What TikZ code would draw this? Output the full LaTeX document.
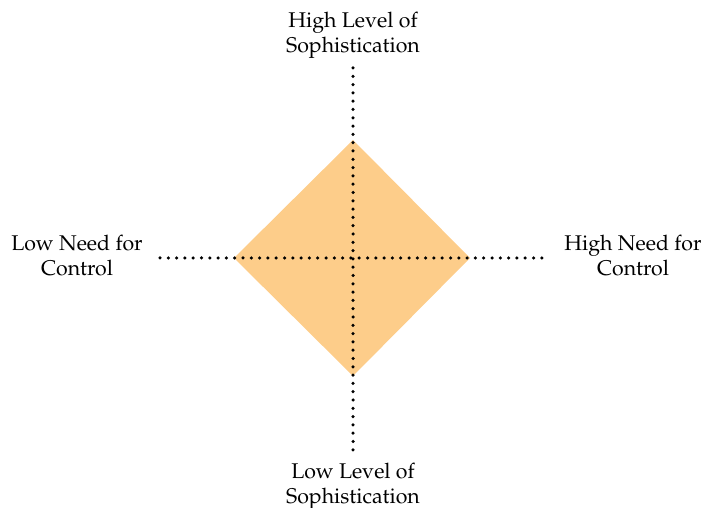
\documentclass[tikz,border=0pt]{standalone}
\usepackage[T1]{fontenc}
\usepackage{mathpazo}
\usepackage{xcolor}
\definecolor{diamondfill}{RGB}{253,205,138}
\tikzset{
  axislabel/.style={draw=none,align=center,font=\fontsize{21.3bp}{25bp}\selectfont,inner sep=0pt},
  dotline/.style={line width=3.5bp,line cap=round,dash pattern=on 0bp off 8.3bp},
}
\begin{document}
\begin{tikzpicture}[x=1bp,y=1bp]
\useasboundingbox (0bp,0bp) rectangle (702bp,508bp);
%%
\coordinate (top) at (353bp,368bp);
  \coordinate (bottom) at (353bp,132bp);
  \coordinate (left) at (234bp,250bp);
  \coordinate (right) at (470bp,250bp);
  \coordinate (vtop) at (353bp,440bp);
  \coordinate (vbottom) at (353bp,56bp);
  \coordinate (hleft) at (160bp,250bp);
  \coordinate (hright) at (545bp,250bp);
  \fill [diamondfill] (top) -- (right) -- (bottom) -- (left) -- cycle;
  \draw [black,dotline] (vtop) -- (vbottom);
  \draw [black,dotline] (hleft) -- (hright);
  \node (highsoph) at (353bp,473bp) [axislabel] {High Level of\\Sophistication};
  \node (lowsoph) at (353bp,22bp) [axislabel] {Low Level of\\Sophistication};
  \node (lowctrl) at (77bp,252bp) [axislabel] {Low Need for\\Control};
  \node (highctrl) at (633bp,252bp) [axislabel] {High Need for\\Control};
%
\end{tikzpicture}
\end{document}
